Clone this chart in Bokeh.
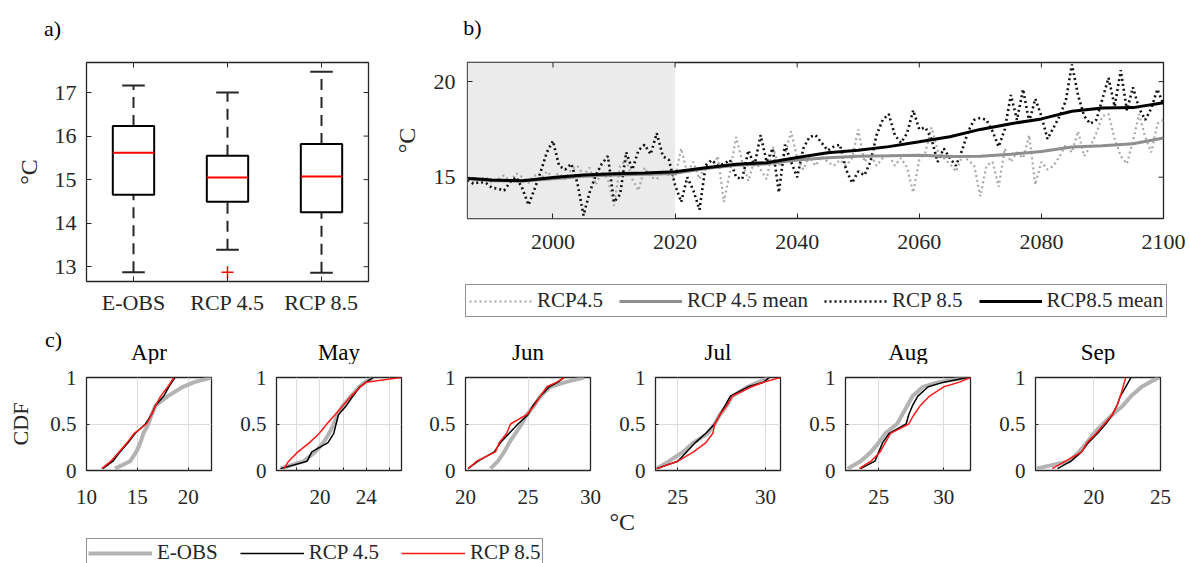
import math

from bokeh.plotting import figure
from bokeh.models import (Range1d, FixedTicker, Legend, LegendItem, Label, Title,
                          BoxAnnotation)
from bokeh.layouts import row, column
from bokeh.embed import file_html
from bokeh.resources import INLINE

FONT = "Liberation Serif"
INK = "#262626"
NAN = float("nan")

# ---------------- a) box plot statistics (°C) ----------------
box_groups = ["E-OBS", "RCP 4.5", "RCP 8.5"]
box_lower = [12.87, 13.39, 12.86]
box_q1 = [14.65, 14.49, 14.25]
box_median = [15.62, 15.05, 15.07]
box_q3 = [16.23, 15.55, 15.82]
box_upper = [17.16, 17.00, 17.48]
outlier_group = ["RCP 4.5"]
outlier_value = [12.87]
a_yticks = [13, 14, 15, 16, 17]
a_xlim = (0.5, 3.5)
a_ylim = (12.66, 17.69)

# ---------------- b) annual mean temperature ----------------
years = list(range(1986, 2101))
rcp45 = [
    14.9, 14.8, 14.9, 15.0, 14.7, 14.9, 15.1, 14.8, 15.2, 15.0,
    14.7, 15.1, 14.9, 15.3, 15.0, 15.2, 14.9, 15.4, 15.6, 15.1,
    15.5, 14.6, 15.3, 14.9, 13.5, 15.6, 15.9, 14.9, 14.3, 15.5,
    15.0, 14.9, 15.3, 15.1, 15.0, 16.5, 15.2, 15.8, 14.9, 15.7,
    15.4, 16.1, 13.7, 15.3, 17.1, 15.8, 14.8, 15.9, 15.4, 14.9,
    16.6, 15.6, 16.2, 17.4, 16.0, 15.4, 16.1, 15.6, 16.1, 15.8,
    15.6, 15.9, 15.6, 16.0, 17.5, 15.8, 16.2, 15.6, 16.0, 16.2,
    15.6, 16.0, 15.5, 14.2, 15.9, 16.3, 17.6, 16.4, 16.0, 15.7,
    15.3, 16.1, 15.9, 15.6, 14.0, 15.6, 15.8, 14.5, 16.5, 15.8,
    16.3, 16.0, 17.2, 14.6, 15.8, 15.4, 15.6, 16.1, 16.7, 16.3,
    17.4, 16.1, 16.6, 17.3, 18.2, 18.3, 17.0, 16.1, 15.7, 16.9,
    18.3, 17.1, 16.3, 17.8, 18.0,
]
rcp85 = [
    14.85, 14.65, 14.75, 14.70, 14.45, 14.40, 14.30, 14.75, 15.00, 14.40,
    13.55, 14.40, 15.30, 16.30, 16.90, 15.60, 15.40, 15.70, 14.70, 13.00,
    14.20, 15.10, 15.70, 16.10, 13.70, 14.10, 16.30, 15.40, 16.40, 16.70,
    16.20, 17.30, 16.10, 15.90, 14.60, 13.70, 15.00, 14.30, 13.30, 15.60,
    15.90, 15.60, 15.70, 15.90, 15.00, 14.90, 16.40, 15.60, 17.20, 15.80,
    16.50, 14.20, 16.70, 15.80, 15.00, 16.50, 17.10, 17.20, 16.80, 16.40,
    16.60, 16.70, 15.40, 14.70, 15.30, 15.10, 15.80, 17.20, 18.00, 18.30,
    17.20, 16.80, 17.30, 18.50, 17.50, 17.60, 17.00, 15.80, 16.50, 16.00,
    15.60, 16.40, 17.40, 18.00, 18.10, 18.00, 17.40, 16.60, 17.50, 19.30,
    18.00, 19.60, 17.90, 19.10, 18.20, 17.00, 17.60, 18.20, 19.00, 20.90,
    19.30, 18.20, 17.80, 18.00, 19.10, 20.20, 18.70, 20.60, 18.50, 19.70,
    18.60, 18.00, 18.60, 19.60, 18.80,
]
mean_years = [1986, 1990, 1995, 2000, 2005, 2010, 2015, 2020, 2025, 2030, 2035, 2040,
              2045, 2050, 2055, 2060, 2065, 2070, 2075, 2080, 2085, 2090, 2095, 2100]
rcp45_mean = [14.92, 14.82, 14.80, 14.92, 15.05, 15.12, 15.15, 15.20, 15.45, 15.62, 15.70, 15.90,
              16.02, 16.10, 16.12, 16.15, 16.08, 16.10, 16.20, 16.35, 16.58, 16.65, 16.75, 17.05]
rcp85_mean = [14.95, 14.85, 14.82, 14.98, 15.12, 15.18, 15.22, 15.28, 15.50, 15.68, 15.76, 16.03,
              16.28, 16.41, 16.60, 16.85, 17.12, 17.50, 17.80, 18.05, 18.45, 18.62, 18.64, 18.90]
reference_period = [1986, 2020]
b_xticks = [2000, 2020, 2040, 2060, 2080, 2100]
b_yticks = [15, 20]
b_xlim = (1986, 2100)
b_ylim = (12.84, 21.0)

# ---------------- c) monthly CDFs (°C at each probability level) ----------------
months = ["Apr", "May", "Jun", "Jul", "Aug", "Sep"]
cdf_levels = [0.02, 0.1, 0.2, 0.3, 0.4, 0.5, 0.6, 0.7, 0.8, 0.9, 0.95, 1.0]

eobs_apr = [12.8, 14.3, 14.9, 15.3, 15.6, 16.1, 16.4, 16.8, 18.0, 19.5, 20.6, 22.3]
rcp45_apr = [11.6, 12.6, 13.3, 14.1, 14.8, 15.8, 16.4, 16.8, 17.6, 18.1, 18.4, 18.7]
rcp85_apr = [11.5, 12.4, 13.2, 14.0, 14.7, 15.9, 16.4, 16.8, 17.3, 18.0, 18.3, 18.6]

eobs_may = [16.6, 18.6, 19.6, 20.3, 20.8, 21.2, 21.5, 22.0, 22.7, 23.4, 23.9, 24.6]
rcp45_may = [16.6, 18.9, 19.3, 20.7, 21.2, 21.4, 21.6, 22.3, 22.85, 23.45, 24.0, 24.6]
rcp85_may = [16.9, 17.3, 18.1, 19.1, 19.95, 20.6, 21.3, 22.0, 22.7, 23.5, 24.0, 27.0]

eobs_jun = [22.0, 22.6, 23.1, 23.5, 24.0, 24.5, 24.9, 25.5, 26.0, 26.8, 28.0, 29.5]
rcp45_jun = [20.2, 21.0, 22.3, 22.8, 23.5, 24.2, 25.0, 25.4, 26.0, 26.7, 27.4, 27.9]
rcp85_jun = [20.2, 20.9, 22.4, 22.7, 23.3, 23.6, 24.9, 25.5, 26.0, 26.5, 27.3, 27.9]

eobs_jul = [23.8, 24.5, 25.3, 25.9, 26.7, 27.1, 27.4, 27.8, 28.1, 29.0, 29.6, 30.2]
rcp45_jul = [23.8, 25.0, 25.5, 26.0, 26.6, 27.1, 27.4, 27.7, 28.0, 29.0, 29.9, 30.2]
rcp85_jul = [23.8, 25.0, 25.9, 26.6, 27.0, 27.1, 27.4, 27.8, 28.1, 29.2, 29.9, 30.85]

eobs_aug = [22.6, 23.6, 24.4, 25.0, 25.5, 26.4, 26.8, 27.2, 27.6, 28.4, 29.6, 31.8]
rcp45_aug = [23.6, 24.7, 25.0, 25.3, 25.8, 27.1, 27.3, 27.6, 28.0, 28.8, 30.0, 31.8]
rcp85_aug = [23.5, 24.4, 25.1, 25.5, 25.9, 27.3, 27.7, 28.2, 28.9, 30.0, 31.2, 32.05]

eobs_sep = [15.7, 18.2, 18.9, 19.5, 20.0, 20.7, 21.4, 22.2, 22.8, 23.6, 24.2, 24.9]
rcp45_sep = [17.3, 18.3, 19.1, 19.6, 20.3, 20.9, 21.4, 21.75, 22.0, 22.4, 22.6, 22.8]
rcp85_sep = [16.9, 17.9, 19.1, 19.5, 20.2, 20.8, 21.4, 21.75, 22.0, 22.2, 22.3, 22.4]

cdf_xlims = {"Apr": (10, 22.3), "May": (16.25, 27.05), "Jun": (20, 30),
             "Jul": (23.73, 30.85), "Aug": (22.44, 32.05), "Sep": (15.65, 25)}
cdf_xticks = {"Apr": [10, 15, 20], "May": [18, 20, 22, 24, 26], "Jun": [20, 25, 30],
              "Jul": [25, 30], "Aug": [25, 30], "Sep": [20, 25]}
cdf_hidden_labels = {"May": [18, 22, 26]}
cdf_series = {
    "Apr": (eobs_apr, rcp45_apr, rcp85_apr),
    "May": (eobs_may, rcp45_may, rcp85_may),
    "Jun": (eobs_jun, rcp45_jun, rcp85_jun),
    "Jul": (eobs_jul, rcp45_jul, rcp85_jul),
    "Aug": (eobs_aug, rcp45_aug, rcp85_aug),
    "Sep": (eobs_sep, rcp45_sep, rcp85_sep),
}
cdf_ylim = (0, 1)
cdf_yticks = [0, 0.5, 1]


def style_axis(ax, size="22px", tick_in=5):
    ax.major_label_text_font = FONT
    ax.major_label_text_font_size = size
    ax.major_label_text_color = INK
    ax.axis_label_text_font = FONT
    ax.axis_label_text_font_style = "normal"
    ax.axis_label_text_font_size = "24px"
    ax.axis_label_text_color = INK
    ax.axis_line_color = None
    ax.major_tick_in = tick_in
    ax.major_tick_out = 0
    ax.major_tick_line_color = INK
    ax.major_tick_line_width = 1
    ax.minor_tick_line_color = None


def mirror_ticks(p, xticks, yticks, xlim, ylim):
    # inward tick marks on the top and right frame edges (half of each dash is clipped)
    p.scatter(x=xticks, y=[ylim[1]] * len(xticks), marker="dash", angle=math.pi / 2,
              size=10, line_color=INK, line_width=1)
    p.scatter(x=[xlim[1]] * len(yticks), y=yticks, marker="dash",
              size=10, line_color=INK, line_width=1)


def base_figure(width, height, xr, yr, left, right, top, bottom):
    p = figure(width=width, height=height, x_range=Range1d(*xr), y_range=Range1d(*yr),
               output_backend="svg", toolbar_location=None, frame_align=False, title=None,
               min_border_left=left, min_border_right=right,
               min_border_top=top, min_border_bottom=bottom)
    p.outline_line_color = INK
    p.outline_line_width = 1.3
    p.outline_line_alpha = 1
    p.background_fill_color = "white"
    p.border_fill_color = "white"
    return p


def strip(width, height):
    # blank canvas whose frame is the whole strip; coordinates are pixels from bottom-left
    p = figure(width=width, height=height, x_range=Range1d(0, width), y_range=Range1d(0, height),
               x_axis_type=None, y_axis_type=None, min_border=0, frame_align=False, title=None,
               output_backend="svg", toolbar_location=None)
    p.outline_line_color = None
    p.xgrid.visible = False
    p.ygrid.visible = False
    return p


def tag(p, x, y, text, size="22px"):
    p.add_layout(Label(x=x, y=y, text=text, text_font=FONT, text_font_size=size,
                       text_align="center", text_baseline="middle", text_color="black"))


def style_legend(leg, size, glyph_w, standoff, spacing, padding):
    leg.label_text_font = FONT
    leg.label_text_font_size = size
    leg.label_text_color = INK
    leg.glyph_width = glyph_w
    leg.glyph_height = 20
    leg.label_height = 20
    leg.label_standoff = standoff
    leg.spacing = spacing
    leg.padding = padding
    leg.margin = 0
    leg.border_line_color = INK
    leg.border_line_width = 1.3
    leg.background_fill_color = "white"
    leg.background_fill_alpha = 1


# ================= header with panel tags a) and b) =================
head1 = strip(1190, 45)
tag(head1, 52, 17, "a)")
tag(head1, 472, 18, "b)")

# ================= panel a =================
xpos = [i + 1 for i in range(len(box_groups))]
half_box, half_cap = 0.22, 0.12

pa = base_figure(390, 275, a_xlim, a_ylim, 86, 22, 17, 39)
pa.xgrid.visible = False
pa.ygrid.visible = False

pa.segment(x0=xpos, x1=xpos, y0=box_q3, y1=box_upper, line_color=INK, line_width=2, line_dash="11 7")
pa.segment(x0=xpos, x1=xpos, y0=box_lower, y1=box_q1, line_color=INK, line_width=2, line_dash="11 7")
pa.segment(x0=[x - half_cap for x in xpos], x1=[x + half_cap for x in xpos],
           y0=box_upper, y1=box_upper, line_color=INK, line_width=2)
pa.segment(x0=[x - half_cap for x in xpos], x1=[x + half_cap for x in xpos],
           y0=box_lower, y1=box_lower, line_color=INK, line_width=2)
pa.quad(left=[x - half_box for x in xpos], right=[x + half_box for x in xpos],
        bottom=box_q1, top=box_q3, fill_color=None, line_color="black", line_width=2)
pa.segment(x0=[x - half_box for x in xpos], x1=[x + half_box for x in xpos],
           y0=box_median, y1=box_median, line_color="red", line_width=2)
pa.scatter(x=[xpos[box_groups.index(g)] for g in outlier_group], y=outlier_value,
           marker="cross", size=12, line_color="red", line_width=1.5)
mirror_ticks(pa, xpos, a_yticks, a_xlim, a_ylim)

pa.xaxis.ticker = FixedTicker(ticks=xpos)
pa.xaxis.major_label_overrides = {x: g for x, g in zip(xpos, box_groups)}
pa.yaxis.ticker = FixedTicker(ticks=a_yticks)
pa.yaxis.axis_label = "°C"
for ax in pa.xaxis + pa.yaxis:
    style_axis(ax)
pa.axis.major_label_text_font = FONT
pa.xaxis.major_label_standoff = 8
pa.yaxis.major_label_standoff = 10
pa.yaxis.axis_label_standoff = 10

# ================= panel b =================
pb = base_figure(800, 217, b_xlim, b_ylim, 75, 27, 17, 44)
pb.xgrid.visible = False
pb.ygrid.visible = False
pb.add_layout(BoxAnnotation(left=reference_period[0], right=reference_period[1],
                            fill_color="#ebebeb", fill_alpha=1.0, line_color=None,
                            level="underlay"))

pb.line(years, rcp45, line_color="#a8a8a8", line_width=2.2, line_dash="2 3")
pb.line(years, rcp85, line_color="#111111", line_width=2.6, line_dash="2 3")
pb.line(mean_years, rcp45_mean, line_color="#8e8e8e", line_width=3)
pb.line(mean_years, rcp85_mean, line_color="#000000", line_width=3)
mirror_ticks(pb, b_xticks, b_yticks, b_xlim, b_ylim)

pb.xaxis.ticker = FixedTicker(ticks=b_xticks)
pb.yaxis.ticker = FixedTicker(ticks=b_yticks)
pb.yaxis.axis_label = "°C"
for ax in pb.xaxis + pb.yaxis:
    style_axis(ax)
pb.axis.major_label_text_font = FONT
pb.xaxis.major_label_standoff = 16
pb.yaxis.major_label_standoff = 12
pb.yaxis.axis_label_standoff = 11

# legend strip under panel b (glyph-only renderers carrying the series styles)
plb = strip(800, 58)
k45 = plb.line(x=[NAN], y=[NAN], line_color="#a8a8a8", line_width=2.2, line_dash="2 3")
k45m = plb.line(x=[NAN], y=[NAN], line_color="#8e8e8e", line_width=3)
k85 = plb.line(x=[NAN], y=[NAN], line_color="#111111", line_width=2.6, line_dash="2 3")
k85m = plb.line(x=[NAN], y=[NAN], line_color="#000000", line_width=3)
leg_b = Legend(items=[LegendItem(label="RCP4.5", renderers=[k45]),
                      LegendItem(label="RCP 4.5 mean", renderers=[k45m]),
                      LegendItem(label="RCP 8.5", renderers=[k85]),
                      LegendItem(label="RCP8.5 mean", renderers=[k85m])],
               orientation="horizontal", location=(75, 3))
style_legend(leg_b, "21px", 63, 5, 16, 3)
plb.add_layout(leg_b, "center")

# ================= panel c =================
cdf_widths = [233, 190, 180, 200, 190, 197]
cdf_lefts = [86, 43, 42, 52, 42, 42]
frame_w = 125

# header strip: panel tag c) and month names centred over each frame
head2 = strip(1190, 44)
tag(head2, 53, 25, "c)")
x_origin = 0
for i, m in enumerate(months):
    tag(head2, x_origin + cdf_lefts[i] + frame_w / 2, 12.5, m, size="23px")
    x_origin += cdf_widths[i]

cdf_figs = []
for i, m in enumerate(months):
    w, left = cdf_widths[i], cdf_lefts[i]
    p = base_figure(w, 170, cdf_xlims[m], cdf_ylim, left, w - left - frame_w, 13, 64)
    eobs, r45c, r85c = cdf_series[m]
    p.line(eobs, cdf_levels, line_color="#b3b3b3", line_width=4)
    p.line(r45c, cdf_levels, line_color="black", line_width=1.5)
    p.line(r85c, cdf_levels, line_color="#ff1a1a", line_width=1.5)
    p.xaxis.ticker = FixedTicker(ticks=cdf_xticks[m])
    p.yaxis.ticker = FixedTicker(ticks=cdf_yticks)
    p.yaxis.major_label_overrides = {0: "0", 0.5: "0.5", 1: "1"}
    if m in cdf_hidden_labels:
        p.xaxis.major_label_overrides = {t: "" for t in cdf_hidden_labels[m]}
    p.xgrid.ticker = FixedTicker(ticks=cdf_xticks[m])
    p.ygrid.ticker = FixedTicker(ticks=cdf_yticks)
    for g in (p.xgrid, p.ygrid):
        g.grid_line_color = "#dcdcdc"
        g.grid_line_width = 1
    for ax in p.xaxis + p.yaxis:
        style_axis(ax, size="21px", tick_in=3)
    p.axis.major_label_text_font = FONT
    p.xaxis.major_label_standoff = 19
    p.yaxis.major_label_standoff = 10
    if i == 0:
        p.yaxis.axis_label = "CDF"
        p.yaxis.axis_label_text_font_size = "22px"
        p.yaxis.axis_label_standoff = 14
    if m == "Jul":
        p.add_layout(Title(text="°C", align="left", offset=-46, standoff=0,
                           text_font=FONT, text_font_size="24px", text_font_style="normal",
                           text_color=INK), "below")
    cdf_figs.append(p)

# ================= shared legend for panel c =================
pl = strip(1190, 29)
d_eobs = pl.line(x=[NAN], y=[NAN], line_color="#b3b3b3", line_width=4)
d_45 = pl.line(x=[NAN], y=[NAN], line_color="black", line_width=1.5)
d_85 = pl.line(x=[NAN], y=[NAN], line_color="#ff1a1a", line_width=1.5)
leg_c = Legend(items=[LegendItem(label="E-OBS", renderers=[d_eobs]),
                      LegendItem(label="RCP 4.5", renderers=[d_45]),
                      LegendItem(label="RCP 8.5", renderers=[d_85])],
               orientation="horizontal", location=(86, -4))
style_legend(leg_c, "21px", 64, 5, 22, 1)
pl.add_layout(leg_c, "center")

page = column(head1, row(pa, column(pb, plb)), head2, row(*cdf_figs), pl)
open("out.html", "w").write(file_html(page, INLINE))
